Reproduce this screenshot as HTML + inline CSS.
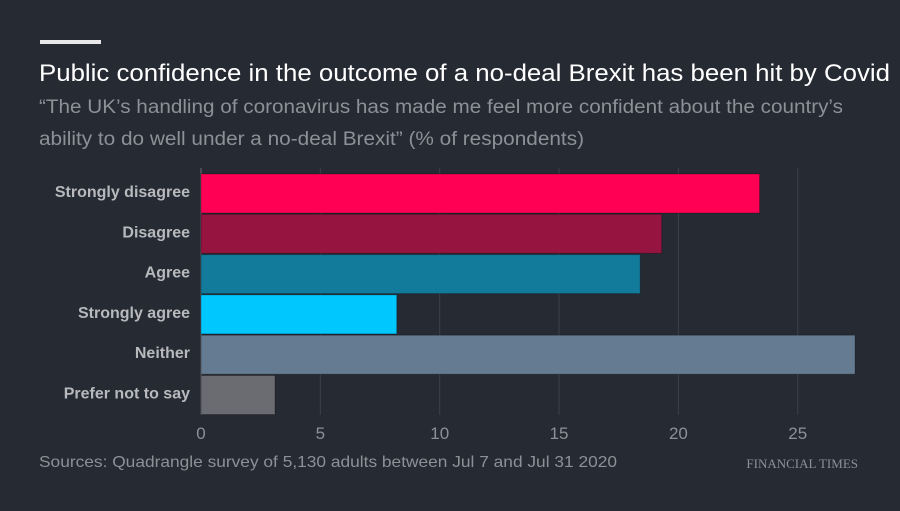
<!DOCTYPE html>
<html><head><meta charset="utf-8"><style>
body{margin:0;background:#262a33;width:900px;height:506px;overflow:hidden;font-family:"Liberation Sans",sans-serif}
</style></head><body>
<svg width="900" height="506" xmlns="http://www.w3.org/2000/svg">
<rect x="40" y="40" width="61" height="4" fill="#e8e8e8"/>
<text x="39" y="81" font-size="24" fill="#ffffff" textLength="851" lengthAdjust="spacingAndGlyphs">Public confidence in the outcome of a no-deal Brexit has been hit by Covid</text>
<text x="39" y="113" font-size="19" fill="#8e9098" textLength="804" lengthAdjust="spacingAndGlyphs">“The UK’s handling of coronavirus has made me feel more confident about the country’s</text>
<text x="39" y="145" font-size="19" fill="#8e9098" textLength="545" lengthAdjust="spacingAndGlyphs">ability to do well under a no-deal Brexit” (% of respondents)</text>
<g id="grid"></g><g id="bars"></g><g id="labels"></g><g id="ticks"></g>
<text x="39" y="467" font-size="16" fill="#8e9098" textLength="578" lengthAdjust="spacingAndGlyphs">Sources: Quadrangle survey of 5,130 adults between Jul 7 and Jul 31 2020</text>
<text x="858" y="468" font-size="13" fill="#8e9098" text-anchor="end" font-family="Liberation Serif,serif">FINANCIAL TIMES</text>
</svg>
<script>
const categories=["Strongly disagree","Disagree","Agree","Strongly agree","Neither","Prefer not to say"];
const values=[23.4,19.3,18.4,8.2,27.4,3.1];
const colors=["#ff0055","#951540","#127a9a","#00c8ff","#657b91","#6a6c72"];
const tickValues=[0,5,10,15,20,25];
const NS="http://www.w3.org/2000/svg";
const x=v=>201+v*23.87;
const y=i=>174+i*40.3;
function mk(t,a,p){const e=document.createElementNS(NS,t);for(const k in a)e.setAttribute(k,a[k]);document.getElementById(p).appendChild(e);return e;}
tickValues.forEach(t=>{
 const l=mk('line',{x1:x(t),x2:x(t),y1:168,y2:415,stroke:t===0?'#6a6c72':'#3d4049','stroke-width':1},'grid');
 
 
 const tx=mk('text',{x:x(t),y:439,'font-size':17,fill:'#8e9098','text-anchor':'middle'},'ticks');
 tx.textContent=t;
 
 
});
categories.forEach((c,i)=>{
 const r=mk('rect',{x:x(0),y:y(i),width:x(values[i])-x(0),height:39,fill:colors[i],stroke:'rgba(0,0,0,0.25)','stroke-width':1},'bars');
 
 
 const t=mk('text',{x:190,y:y(i)+23,'font-size':16,'font-weight':'bold',fill:'#b8b9bd','text-anchor':'end'},'labels');
 t.textContent=c;
 
 
});
</script>
</body></html>
